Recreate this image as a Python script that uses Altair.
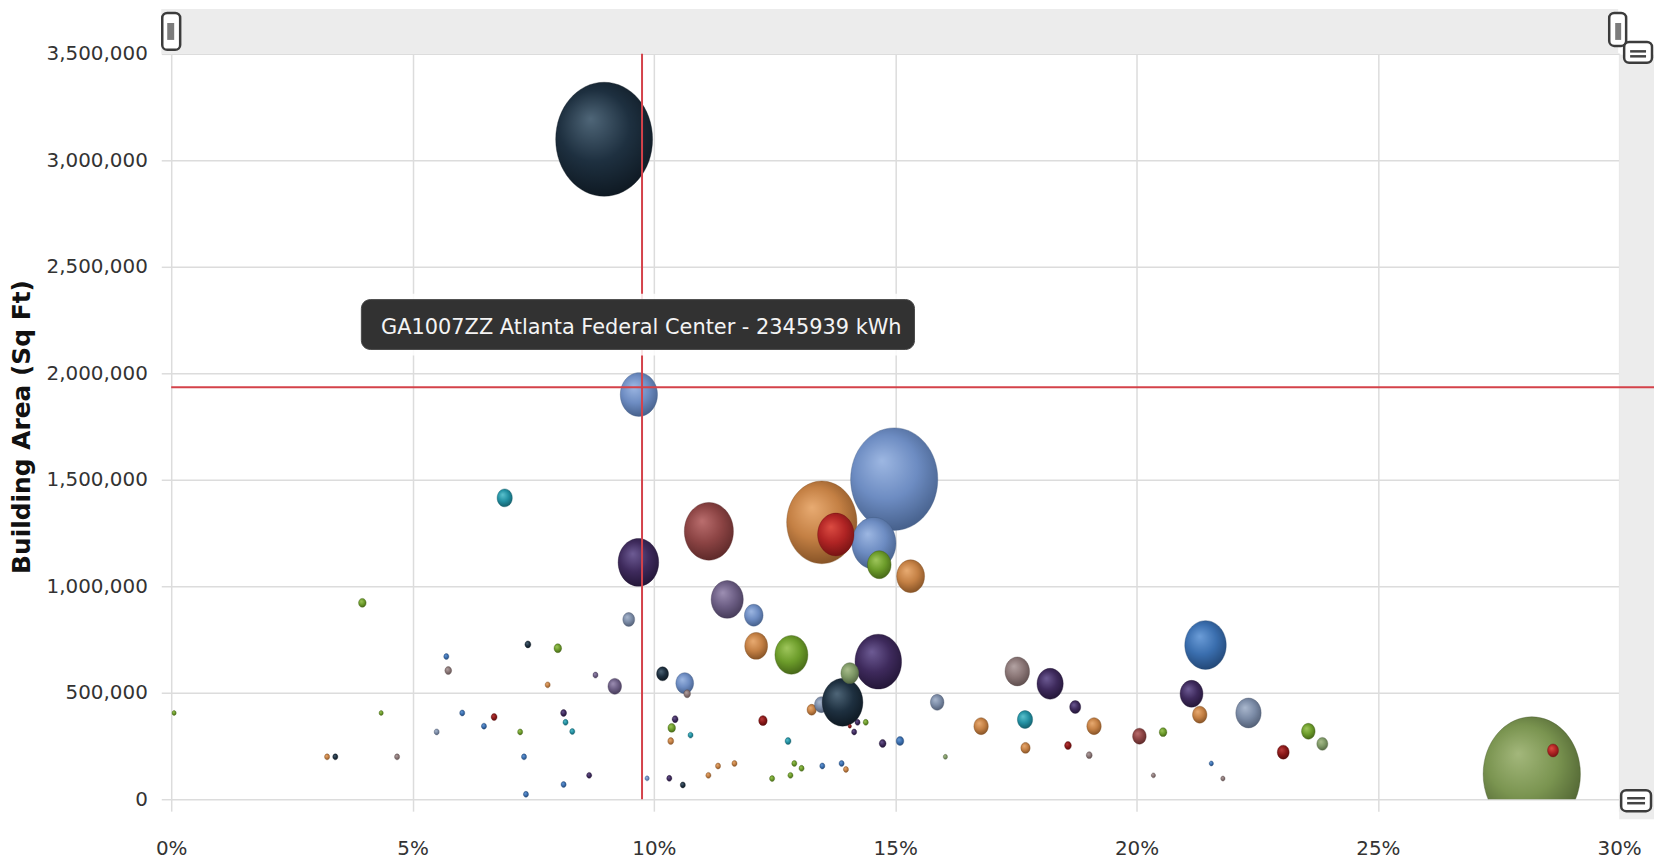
import altair as alt
import pandas as pd

# ---------------- data ----------------
group_names = ["orange", "maroon", "steel", "purple", "graypurple", "grayblue", "navy",
               "browngray", "blue", "teal", "olive", "olivegray", "green", "darkred", "red"]
group_light = ["#e8ab72", "#ba6e6e", "#9db7e2", "#6d5b94", "#9d8fb3", "#aab8ce", "#4f6678",
               "#b3a3a3", "#6c9dd8", "#5cc2ce", "#a3b77b", "#a9bd8c", "#9fc65c", "#ba3c3c", "#dc4c42"]
group_base = ["#c48044", "#8c4444", "#6d8cc2", "#3e2a5c", "#6c5e84", "#7b8ba6", "#1e3040",
              "#8a7676", "#3a6eae", "#2290a2", "#7a9450", "#7e9866", "#6c9c2a", "#8a1818", "#b02424"]
group_dark = ["#7a4a20", "#542424", "#3e5780", "#1e1230", "#3e3450", "#4a566c", "#0b141c",
              "#564646", "#1e406c", "#105460", "#44562a", "#4c5e3c", "#3e5c14", "#500a0a", "#6c1010"]

bubble_group = (
    ["navy"] * 6 + ["steel"] * 6 + ["blue"] * 11 + ["grayblue"] * 5 + ["teal"] * 6
    + ["green"] * 15 + ["olivegray"] * 3 + ["olive"] * 1 + ["orange"] * 15 + ["maroon"] * 2
    + ["darkred"] * 5 + ["red"] * 2 + ["purple"] * 12 + ["graypurple"] * 3 + ["browngray"] * 7
)
bubble_pct = [
    8.97, 7.39, 10.18, 13.91, 3.40, 10.60,
    9.69, 14.98, 14.56, 12.07, 10.64, 9.86,
    21.43, 5.70, 6.03, 6.48, 7.31, 8.13, 7.35, 13.49, 13.89, 21.55, 15.10,
    9.48, 5.50, 13.47, 15.87, 22.32,
    6.91, 8.17, 8.31, 10.76, 12.78, 17.69,
    3.96, 8.01, 0.06, 4.35, 7.23, 10.37, 12.85, 14.67, 14.39, 12.45, 12.83, 12.91, 13.06, 20.55, 23.56,
    14.06, 23.85, 16.04,
    28.19,
    13.48, 15.32, 12.12, 7.80, 3.23, 10.35, 13.27, 11.13, 11.33, 11.67, 13.98, 16.78, 17.70, 19.12, 21.31,
    11.14, 20.06,
    6.69, 12.26, 18.58, 23.04, 14.06,
    13.77, 28.63,
    9.68, 14.65, 18.21, 21.14, 18.73, 8.13, 8.66, 10.32, 10.44, 14.22, 14.15, 14.74,
    11.52, 9.19, 8.79,
    17.53, 5.74, 4.68, 10.69, 19.02, 20.35, 21.79,
]
bubble_area = [
    3099000, 727000, 589000, 455000, 199000, 67000,
    1900000, 1503000, 1202000, 864000, 545000, 98000,
    724000, 670000, 405000, 343000, 199000, 69000, 23000, 156000, 168000, 168000, 273000,
    844000, 316000, 444000, 455000, 405000,
    1415000, 361000, 318000, 301000, 273000, 374000,
    922000, 709000, 405000, 405000, 316000, 335000, 678000, 1101000, 361000, 97000, 112000, 168000, 145000, 315000, 319000,
    592000, 260000, 199000,
    118000,
    1300000, 1047000, 720000, 537000, 199000, 273000, 420000, 112000, 156000, 168000, 140000, 343000, 241000, 343000, 397000,
    1258000, 296000,
    386000, 369000, 252000, 221000, 343000,
    1243000, 229000,
    1112000, 646000, 542000, 495000, 433000, 405000, 112000, 98000, 376000, 361000, 316000, 262000,
    938000, 530000, 583000,
    600000, 604000, 199000, 495000, 207000, 112000, 97000,
]
bubble_kwh = [
    15890000, 59400, 237600, 2792000, 43600, 43600,
    2345939, 12858000, 3277000, 586600, 534500, 30300,
    2910000, 43600, 43600, 43600, 43600, 43600, 43600, 43600, 43600, 30300, 98200,
    237600, 43600, 310300, 310300, 1090800,
    392700, 43600, 43600, 43600, 59400, 392700,
    98200, 98200, 30300, 30300, 43600, 98200, 1843500, 950200, 43600, 43600, 43600, 43600, 43600, 98200, 310300,
    534500, 204800, 30300,
    16029000,
    8349000, 1319900, 883500, 43600, 43600, 59400, 146700, 43600, 43600, 43600, 43600, 350300, 146700, 350300, 350300,
    4077000, 310300,
    59400, 121200, 77600, 237600, 19400,
    2241000, 204800,
    2792000, 3666000, 1164700, 883500, 204800, 59400, 43600, 43600, 59400, 43600, 43600, 77600,
    1750100, 310300, 43600,
    1019300, 77600, 43600, 77600, 59400, 30300, 30300,
]

x_tick_pct = [0, 5, 10, 15, 20, 25, 30]
y_tick_values = [0, 500000, 1000000, 1500000, 2000000, 2500000, 3000000, 3500000]

tip_label = "GA1007ZZ Atlanta Federal Center - 2345939 kWh"
tip_box_pct = [3.94, 15.40]
tip_box_area = [2112000, 2346000]
tip_text_pct = 9.74
tip_text_area = 2214000
cross_pct = 9.755
cross_area = 1934600

# ---------------- chart ----------------
W, H = 1455, 749

bubbles = pd.DataFrame({
    "group": bubble_group,
    "x": [p / 100 for p in bubble_pct],
    "y": bubble_area,
    "kwh": bubble_kwh,
})

X = alt.X("x:Q",
          scale=alt.Scale(domain=[0, 0.30], nice=False, zero=True),
          axis=alt.Axis(values=[p / 100 for p in x_tick_pct], format=".0%", title=None,
                        grid=True, tickSize=12, labelPadding=28, labelFlush=False))
Y = alt.Y("y:Q",
          scale=alt.Scale(domain=[0, 3500000], nice=False),
          axis=alt.Axis(values=y_tick_values, format=",d", title="Building Area (Sq Ft)",
                        grid=True, tickSize=10, labelPadding=14, titlePadding=12,
                        titleFont="DejaVu Sans", titleFontSize=25, titleFontWeight="bold",
                        titleColor="#111111"))
SIZE = alt.Size("kwh:Q", scale=alt.Scale(domain=[0, 16000000], range=[0, 13205]), legend=None)

ELLIPSE = ("M0.85,0C0.85,0.5523,0.4694,1,0,1C-0.4694,1,-0.85,0.5523,-0.85,0"
           "C-0.85,-0.5523,-0.4694,-1,0,-1C0.4694,-1,0.85,-0.5523,0.85,0Z")

one = pd.DataFrame({"d": [0]})


def deco_rect(x1, x2, y1, y2, **kw):
    return alt.Chart(one).mark_rect(**kw).encode(
        x=alt.value(x1), x2=alt.value(x2), y=alt.value(y1), y2=alt.value(y2))


def deco_rule(x1, x2, y1, y2, **kw):
    return alt.Chart(one).mark_rule(**kw).encode(
        x=alt.value(x1), x2=alt.value(x2), y=alt.value(y1), y2=alt.value(y2))


layers = []
# range-selector chrome behind everything
layers.append(deco_rect(-10, 1454, -45, 0, fill="#ececec"))
layers.append(deco_rect(1455, 1490, 1, H + 20, fill="#ececec"))

for name, light, base, dark in zip(group_names, group_light, group_base, group_dark):
    sub = bubbles[bubbles["group"] == name].sort_values("kwh", ascending=False)
    grad = alt.RadialGradient(
        gradient="radial",
        stops=[alt.GradientStop(color=light, offset=0),
               alt.GradientStop(color=base, offset=0.5),
               alt.GradientStop(color=dark, offset=1)],
        x1=0.38, y1=0.32, r1=0, x2=0.45, y2=0.45, r2=0.62)
    layers.append(
        alt.Chart(sub).mark_point(shape=ELLIPSE, filled=True, fill=grad, opacity=1,
                                  stroke=dark, strokeWidth=0.6, strokeOpacity=0.6, clip=True)
        .encode(x=X, y=Y, size=SIZE)
    )

# crosshair
layers.append(alt.Chart(pd.DataFrame({"x": [cross_pct / 100]}))
              .mark_rule(color="#d4424a", strokeWidth=2).encode(x=X))
layers.append(alt.Chart(pd.DataFrame({"y": [cross_area]}))
              .mark_rule(color="#d4424a", strokeWidth=2)
              .encode(y=Y, x=alt.value(0), x2=alt.value(1490)))

# tooltip
tip_df = pd.DataFrame({"x": [tip_box_pct[0] / 100], "x2": [tip_box_pct[1] / 100],
                       "y": [tip_box_area[0]], "y2": [tip_box_area[1]]})
layers.append(alt.Chart(tip_df).mark_rect(cornerRadius=9, fill="#ffffff", stroke="#ffffff",
                                          strokeWidth=12, strokeOpacity=0.85)
              .encode(x=X, x2=alt.X2("x2"), y=Y, y2=alt.Y2("y2")))
layers.append(alt.Chart(tip_df).mark_rect(cornerRadius=9, fill="#323232", stroke="#4a4a4a",
                                          strokeWidth=1)
              .encode(x=X, x2=alt.X2("x2"), y=Y, y2=alt.Y2("y2")))
layers.append(alt.Chart(pd.DataFrame({"x": [tip_text_pct / 100], "y": [tip_text_area],
                                      "label": [tip_label]}))
              .mark_text(font="DejaVu Sans", fontSize=21, color="#f4f4f4",
                         align="center", baseline="middle")
              .encode(x=X, y=Y, text="label:N"))

# handles
HS = dict(fill="#ffffff", stroke="#3c3c3c", strokeWidth=2.5, cornerRadius=5)
layers.append(deco_rect(-9, 9, -41, -4, **HS))
layers.append(deco_rect(-4, 3, -31, -14, fill="#7c7c7c"))
layers.append(deco_rect(1445, 1462, -41, -8, **HS))
layers.append(deco_rect(1451, 1457, -31, -14, fill="#7c7c7c"))
layers.append(deco_rect(1460, 1488, -12, 9, **HS))
layers.append(deco_rule(1466, 1482, -2.5, -2.5, color="#444444", strokeWidth=2.5))
layers.append(deco_rule(1466, 1482, 2.5, 2.5, color="#444444", strokeWidth=2.5))
layers.append(deco_rect(1457, 1487, 740, 761, **HS))
layers.append(deco_rule(1463, 1481, 748, 748, color="#444444", strokeWidth=2.5))
layers.append(deco_rule(1463, 1481, 753, 753, color="#444444", strokeWidth=2.5))

chart = (
    alt.layer(*layers)
    .properties(width=W, height=H,
                padding={"left": 164, "top": 44, "right": 35, "bottom": 58},
                autosize=alt.AutoSizeParams(type="none"))
    .configure_axis(labelFont="DejaVu Sans", labelFontSize=20, labelColor="#333333",
                    gridColor="#dcdcdc", gridWidth=1.5, tickColor="#dcdcdc", tickWidth=1.5,
                    domain=False)
    .configure_view(stroke="transparent")
)

chart.save("out.html", embed_options={"renderer": "svg", "actions": False})
